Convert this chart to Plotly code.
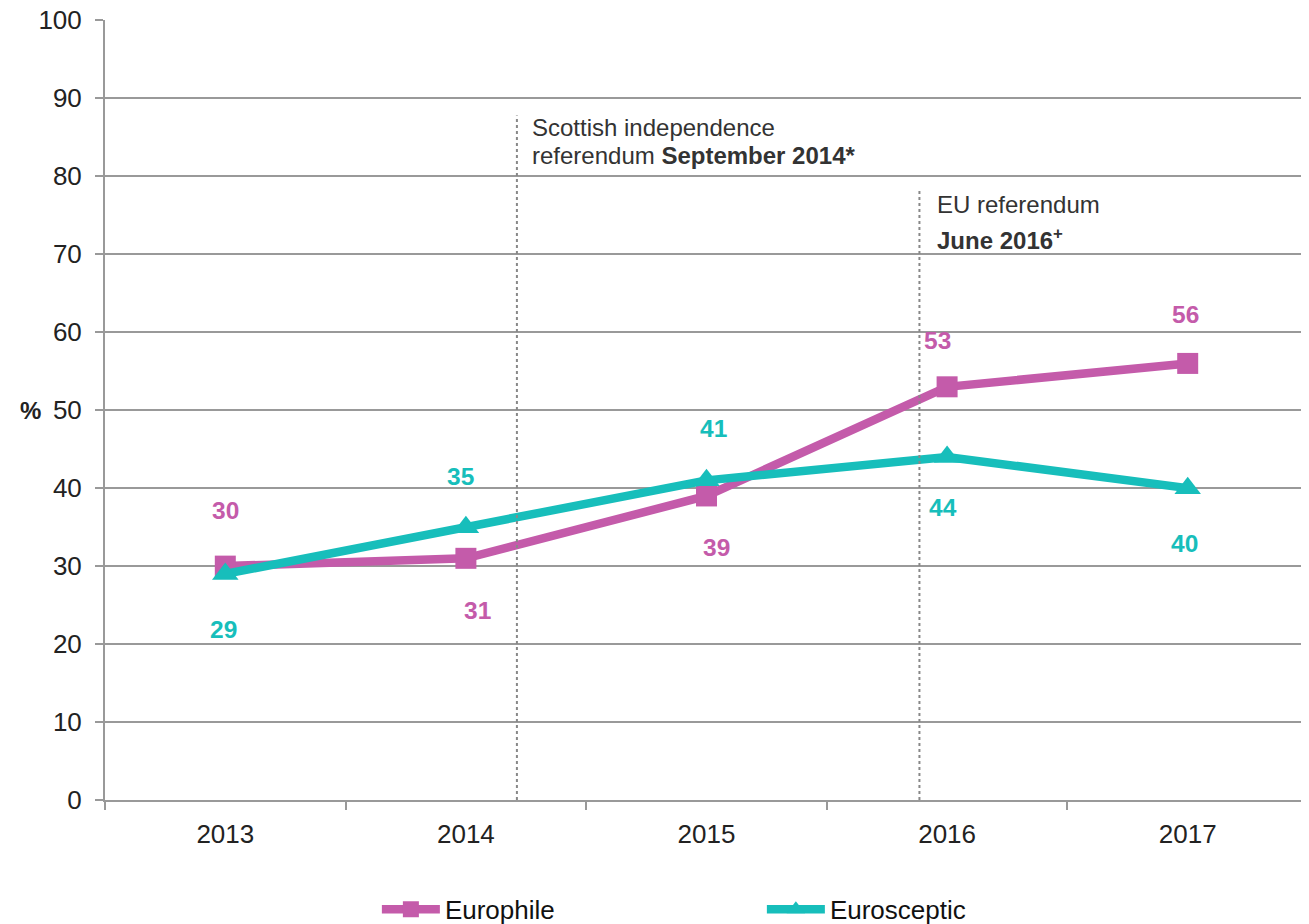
import plotly.graph_objects as go

years = ["2013", "2014", "2015", "2016", "2017"]
europhile = [30, 31, 39, 53, 56]
eurosceptic = [29, 35, 41, 44, 40]

MAG = "#C45BAA"
TEAL = "#17BEBB"
FONT = "Liberation Sans"
TXT = "#333333"

# label offsets (style): (dx, dy) in px
euro_off = [(0, -56), (12, 52), (10, 52), (-10, -46), (-2, -49)]
scep_off = [(-2, 56), (-5, -51), (7, -52), (-4, 51), (-3, 55)]

fig = go.Figure()
fig.add_trace(go.Scatter(x=list(range(len(years))), y=europhile, name="Europhile",
                         mode="lines+markers",
                         line=dict(color=MAG, width=8.5),
                         marker=dict(symbol="square", size=21, color=MAG)))
fig.add_trace(go.Scatter(x=list(range(len(years))), y=eurosceptic, name="Eurosceptic",
                         mode="lines+markers",
                         line=dict(color=TEAL, width=8.5),
                         marker=dict(symbol="triangle-up", size=23, color=TEAL)))

annotations = []
for i, v in enumerate(europhile):
    dx, dy = euro_off[i]
    annotations.append(dict(x=i, y=v, xref="x", yref="y", text=f"<b>{v}</b>", showarrow=False,
                            xshift=dx, yshift=-dy, font=dict(size=24.5, color=MAG, family=FONT)))
for i, v in enumerate(eurosceptic):
    dx, dy = scep_off[i]
    annotations.append(dict(x=i, y=v, xref="x", yref="y", text=f"<b>{v}</b>", showarrow=False,
                            xshift=dx, yshift=-dy, font=dict(size=24.5, color=TEAL, family=FONT)))

event_lines = [
    (1.265, 86.3, "Scottish independence"),
    (1.265, 82.7, "referendum <b>September 2014*</b>"),
    (2.951, 76.4, "EU referendum"),
    (2.951, 71.9, "<b>June 2016<sup>+</sup></b>"),
]
for x, y, t in event_lines:
    annotations.append(dict(x=x, y=y, xref="x", yref="y", xanchor="left", yanchor="middle",
                            align="left", text=t, showarrow=False,
                            font=dict(size=24, color=TXT, family=FONT)))

annotations.append(dict(x=-0.062, y=0.5, xref="paper", yref="paper", xanchor="center", yanchor="middle",
                        text="<b>%</b>", showarrow=False,
                        font=dict(size=24, color="#222222", family=FONT)))

shapes = [
    dict(type="line", xref="x", yref="y", x0=1.212, x1=1.212, y0=0, y1=87.8,
         line=dict(color="#888888", width=2, dash="dot")),
    dict(type="line", xref="x", yref="y", x0=2.885, x1=2.885, y0=0, y1=78.5,
         line=dict(color="#888888", width=2, dash="dot")),
]

# page body has an 8px margin; figure is sized/margined to compensate
fig.update_layout(
    width=1301, height=916,
    margin=dict(l=97, r=1, t=12, b=124, autoexpand=False),
    paper_bgcolor="white", plot_bgcolor="white",
    font=dict(family=FONT, size=24, color="#222222"),
    shapes=shapes,
    annotations=annotations,
    showlegend=True,
    legend=dict(orientation="h", x=0.226, y=-0.110, xanchor="left", yanchor="top",
                entrywidth=312, entrywidthmode="pixels",
                font=dict(size=26, color="#111111", family=FONT),
                itemwidth=58),
    xaxis=dict(type="linear", range=[-0.5, 4.5], tickmode="array",
               tickvals=list(range(len(years))), ticktext=years,
               showgrid=False, zeroline=False, showline=True, linecolor="#999999", linewidth=2,
               ticks="", tickfont=dict(size=26, color="#222222"), ticklabelstandoff=10),
    yaxis=dict(range=[0, 100.05], tickvals=list(range(0, 101, 10)), showgrid=True,
               gridcolor="#999999", gridwidth=1.5, zeroline=False, showline=True,
               linecolor="#999999", linewidth=2, ticks="outside", ticklen=8, tickcolor="#999999",
               tickwidth=2, tickfont=dict(size=26, color="#222222"), ticklabelstandoff=8,
               ticklabeloverflow="allow"),
)

fig.update_xaxes(minor=dict(tickvals=[-0.5, 0.5, 1.5, 2.5, 3.5, 4.5], ticks="outside",
                            ticklen=8, tickcolor="#999999", tickwidth=2, showgrid=False))

fig.write_html("out.html")
